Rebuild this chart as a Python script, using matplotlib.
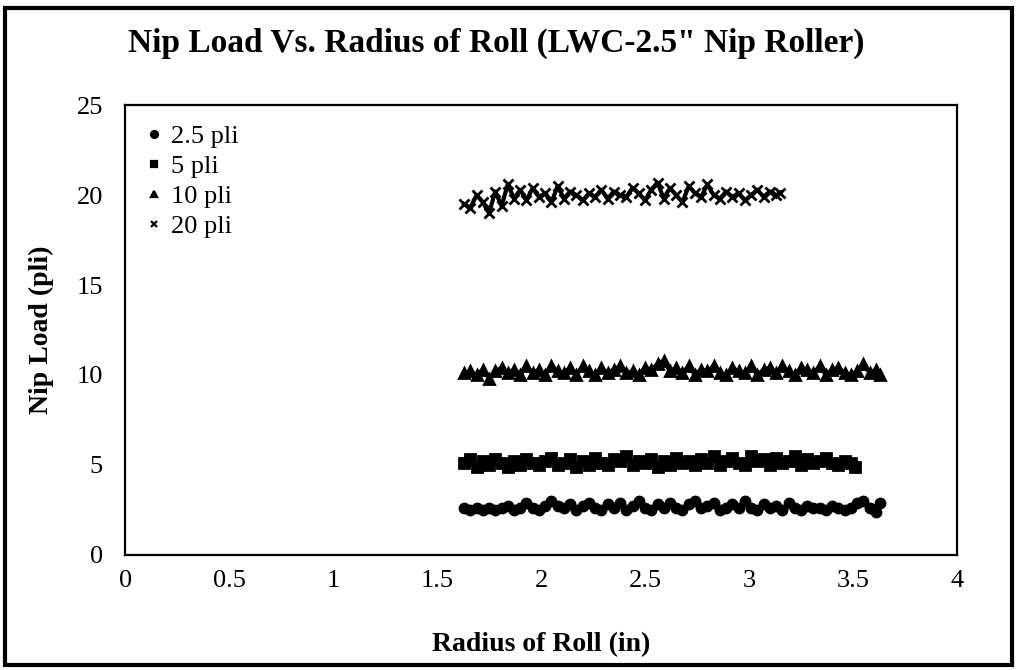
import matplotlib.pyplot as plt
from matplotlib.lines import Line2D
from matplotlib.patches import Rectangle

# Radius of roll (in) for each nip load series
radius_a = [1.63, 1.66, 1.69, 1.72, 1.75, 1.78, 1.81, 1.84, 1.87, 1.90,
            1.93, 1.96, 1.99, 2.02, 2.05, 2.08, 2.11, 2.14, 2.17, 2.20,
            2.23, 2.26, 2.29, 2.32, 2.35, 2.38, 2.41, 2.44, 2.47, 2.50,
            2.53, 2.56, 2.59, 2.62, 2.65, 2.68, 2.71, 2.74, 2.77, 2.80,
            2.83, 2.86, 2.89, 2.92, 2.95, 2.98, 3.01, 3.04, 3.07, 3.10,
            3.13, 3.16, 3.19, 3.22, 3.25, 3.28, 3.31, 3.34, 3.37, 3.40,
            3.43, 3.46, 3.49, 3.52, 3.55, 3.58, 3.61, 3.63]
radius_b = [1.63, 1.66, 1.69, 1.72, 1.75, 1.78, 1.81, 1.84, 1.87, 1.90,
            1.93, 1.96, 1.99, 2.02, 2.05, 2.08, 2.11, 2.14, 2.17, 2.20,
            2.23, 2.26, 2.29, 2.32, 2.35, 2.38, 2.41, 2.44, 2.47, 2.50,
            2.53, 2.56, 2.59, 2.62, 2.65, 2.68, 2.71, 2.74, 2.77, 2.80,
            2.83, 2.86, 2.89, 2.92, 2.95, 2.98, 3.01, 3.04, 3.07, 3.10,
            3.13, 3.16, 3.19, 3.22, 3.25, 3.28, 3.31, 3.34, 3.37, 3.40,
            3.43, 3.46, 3.49, 3.51]
radius_c = [1.63, 1.66, 1.69, 1.72, 1.75, 1.78, 1.81, 1.84, 1.87, 1.90,
            1.93, 1.96, 1.99, 2.02, 2.05, 2.08, 2.11, 2.14, 2.17, 2.20,
            2.23, 2.26, 2.29, 2.32, 2.35, 2.38, 2.41, 2.44, 2.47, 2.50,
            2.53, 2.56, 2.59, 2.62, 2.65, 2.68, 2.71, 2.74, 2.77, 2.80,
            2.83, 2.86, 2.89, 2.92, 2.95, 2.98, 3.01, 3.04, 3.07, 3.10,
            3.13, 3.15]

# Measured nip load (pli)
load_25 = [2.6, 2.5, 2.6, 2.5, 2.6, 2.5, 2.6, 2.7, 2.5, 2.6,
           2.9, 2.6, 2.5, 2.7, 3.0, 2.7, 2.6, 2.8, 2.5, 2.7,
           2.9, 2.6, 2.5, 2.8, 2.6, 2.9, 2.5, 2.7, 3.0, 2.6,
           2.5, 2.8, 2.6, 2.9, 2.6, 2.5, 2.8, 3.0, 2.6, 2.7,
           2.9, 2.5, 2.6, 2.8, 2.6, 3.0, 2.6, 2.5, 2.8, 2.6,
           2.7, 2.5, 2.9, 2.6, 2.5, 2.7, 2.6, 2.6, 2.5, 2.7,
           2.6, 2.5, 2.6, 2.9, 3.0, 2.6, 2.4, 2.9]
load_5 = [5.1, 5.3, 4.9, 5.2, 5.0, 5.3, 5.1, 4.9, 5.2, 5.0,
          5.3, 5.1, 5.0, 5.2, 5.4, 5.0, 5.1, 5.3, 4.9, 5.2,
          5.0, 5.4, 5.1, 5.0, 5.3, 5.2, 5.5, 5.0, 5.2, 5.1,
          5.3, 4.9, 5.2, 5.0, 5.4, 5.1, 5.2, 5.0, 5.3, 5.1,
          5.5, 5.0, 5.2, 5.4, 5.1, 5.0, 5.5, 5.2, 5.3, 5.0,
          5.4, 5.1, 5.2, 5.5, 5.0, 5.3, 5.1, 5.2, 5.4, 5.1,
          5.0, 5.2, 5.1, 4.9]
load_10 = [10.1, 10.2, 10.0, 10.3, 9.8, 10.2, 10.4, 10.1, 10.3, 10.0,
           10.5, 10.1, 10.3, 10.0, 10.5, 10.2, 10.1, 10.4, 10.0, 10.5,
           10.2, 10.0, 10.4, 10.1, 10.3, 10.5, 10.1, 10.2, 10.0, 10.4,
           10.3, 10.6, 10.8, 10.2, 10.4, 10.1, 10.5, 10.0, 10.3, 10.2,
           10.5, 10.1, 10.0, 10.4, 10.2, 10.1, 10.5, 10.0, 10.3, 10.4,
           10.1, 10.5, 10.2, 10.0, 10.4, 10.3, 10.1, 10.5, 10.0, 10.3,
           10.4, 10.1, 10.0, 10.2, 10.6, 10.1, 10.3, 10.0]
load_20 = [19.5, 19.3, 20.0, 19.6, 19.0, 20.2, 19.4, 20.6, 19.8, 20.3,
           19.7, 20.4, 19.9, 20.1, 19.6, 20.5, 19.8, 20.2, 20.0, 19.7,
           20.1, 19.9, 20.3, 19.8, 20.2, 20.0, 19.9, 20.4, 20.1, 19.7,
           20.3, 20.7, 19.8, 20.4, 20.0, 19.6, 20.5, 20.1, 19.9, 20.6,
           20.0, 19.8, 20.2, 19.9, 20.1, 19.7, 20.0, 20.3, 19.9, 20.2,
           20.0, 20.1]

labels = ["2.5 pli", "5 pli", "10 pli", "20 pli"]
markers = ["o", "s", "^", "x"]

serif = ["Liberation Serif", "DejaVu Serif"]
plt.rcParams['font.family'] = serif

fig = plt.figure(figsize=(10.17, 6.70), dpi=100)
ax = fig.add_axes([0.123, 0.172, 0.818, 0.671])

series = [(radius_a, load_25), (radius_b, load_5), (radius_a, load_10), (radius_c, load_20)]
for (xs, ys), m in zip(series, markers):
    ax.plot(xs, ys, color="black", lw=3, marker=m, ms=6.5, mew=2,
            mfc="black", mec="black")

ax.set_xlim(0, 4)
ax.set_ylim(0, 25)
ax.set_xticks([0, 0.5, 1, 1.5, 2, 2.5, 3, 3.5, 4])
ax.set_xticklabels(["0", "0.5", "1", "1.5", "2", "2.5", "3", "3.5", "4"])
ax.set_yticks([0, 5, 10, 15, 20, 25])
ax.tick_params(axis="x", length=0, pad=11, labelsize=19)
ax.tick_params(axis="y", length=0, pad=16, labelsize=19)
for s in ax.spines.values():
    s.set_linewidth(1.6)

ax.set_xlabel("Radius of Roll (in)", fontsize=20, fontweight="bold", labelpad=29)
ax.set_ylabel("Nip Load (pli)", fontsize=20, fontweight="bold", labelpad=16)
fig.text(0.488, 0.935, 'Nip Load Vs. Radius of Roll (LWC-2.5" Nip Roller)',
         ha="center", va="center", fontsize=24, fontweight="bold")

handles = [Line2D([], [], color="black", ls="none", marker=m, ms=5, mew=1.6)
           for m in markers]
ax.legend(handles, labels, loc="upper left", bbox_to_anchor=(-0.003, 1.01),
          frameon=False, fontsize=19, handlelength=0.6, handletextpad=0.35,
          labelspacing=0.25)

# outer chart border
fig.patches.append(Rectangle((0.005, 0.008), 0.99, 0.98, transform=fig.transFigure,
                             fill=False, lw=3, ec="black"))

fig.savefig("out.png", dpi=100)
